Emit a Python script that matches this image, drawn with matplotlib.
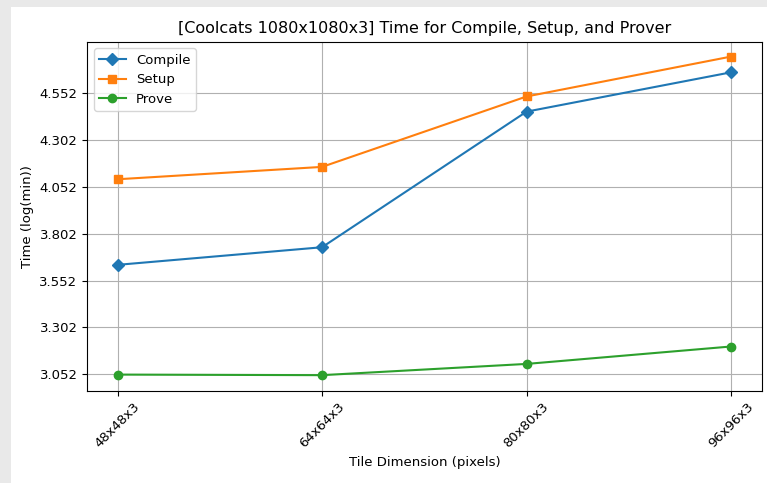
import matplotlib
matplotlib.use("Agg")
import matplotlib.pyplot as plt
from matplotlib.patches import Rectangle

categories = ["48x48x3", "64x64x3", "80x80x3", "96x96x3"]
compile_t = [3.636, 3.730, 4.454, 4.664]
setup_t = [4.093, 4.159, 4.535, 4.748]
prove_t = [3.050, 3.047, 3.107, 3.200]
yticks = [3.052, 3.302, 3.552, 3.802, 4.052, 4.302, 4.552]

W, H = 767, 483
fig = plt.figure(figsize=(W / 100, H / 100), dpi=100)
fig.patch.set_facecolor("white")
# screenshot frame (grey strips on the left and top)
fig.patches.append(Rectangle((0, 0), 11 / W, 1, transform=fig.transFigure,
                             facecolor="#e9e9e9", edgecolor="none", zorder=-5))
fig.patches.append(Rectangle((0, 1 - 7 / H), 1, 7 / H, transform=fig.transFigure,
                             facecolor="#e9e9e9", edgecolor="none", zorder=-5))

l, r, t, b = 87.3, 761.7, 41.7, 390.7
ax = fig.add_axes([l / W, 1 - b / H, (r - l) / W, (b - t) / H])

x = list(range(len(categories)))
ax.plot(x, compile_t, marker="D", label="Compile", color="#1f77b4")
ax.plot(x, setup_t, marker="s", label="Setup", color="#ff7f0e")
ax.plot(x, prove_t, marker="o", label="Prove", color="#2ca02c")

ax.set_xticks(x)
ax.set_xticklabels(categories, rotation=45, fontsize=9.5)
ax.set_yticks(yticks)
ax.set_yticklabels([f"{v:.3f}" for v in yticks], fontsize=9.5)
ax.set_xlim(-0.148, 3.15)
ax.set_ylim(2.964, 4.8275)
ax.grid(True)
ax.set_xlabel("Tile Dimension (pixels)", fontsize=9.5)
ax.set_ylabel("Time (log(min))", fontsize=9.5)
ax.set_title("[Coolcats 1080x1080x3] Time for Compile, Setup, and Prover", fontsize=11.5)
ax.legend(loc="upper left", fontsize=9.5)

fig.savefig("out.png", dpi=100)
